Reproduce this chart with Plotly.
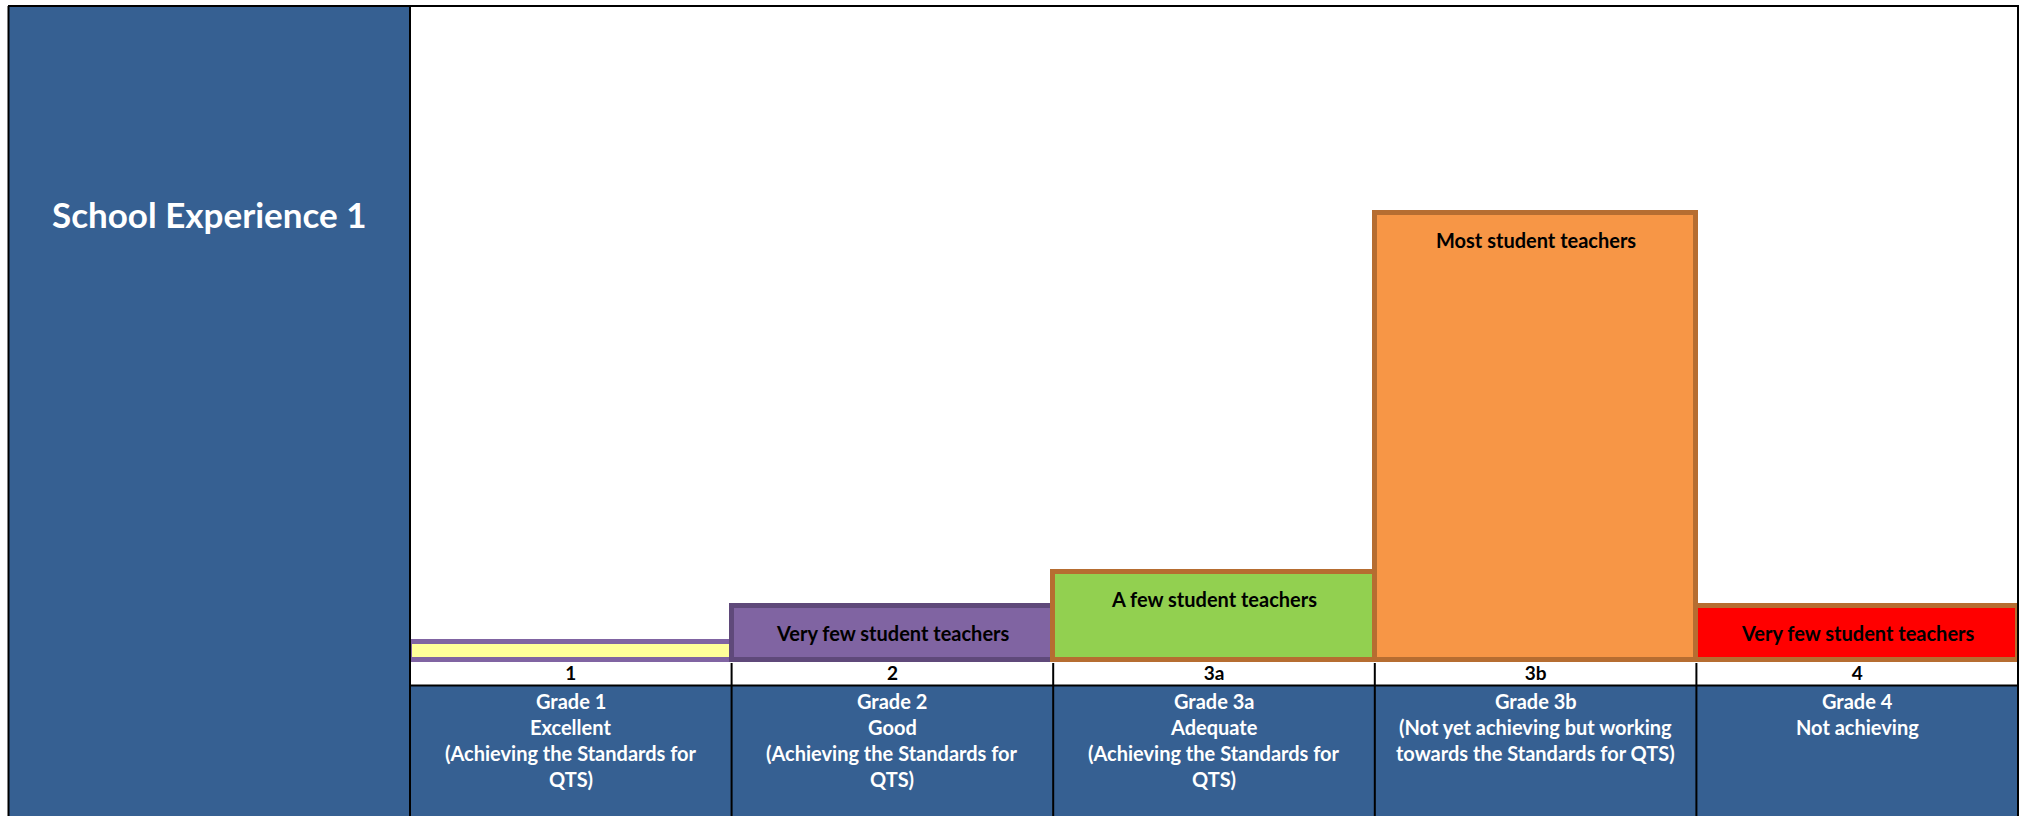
import plotly.graph_objects as go

# ---------------- data ----------------
grades = ["1", "2", "3a", "3b", "4"]
values = [2.8, 8.3, 13.5, 68.3, 8.2]
bar_labels = ["", "Very few student teachers", "A few student teachers",
              "Most student teachers", "Very few student teachers"]
fill_colors = ["#FFFF99", "#8064A2", "#92D050", "#F79646", "#FF0000"]
line_colors = ["#8064A2", "#5F497A", "#B66D31", "#B66D31", "#B66D31"]
grade_descriptions = [
    ["Grade 1", "Excellent", "(Achieving the Standards for", "QTS)"],
    ["Grade 2", "Good", "(Achieving the Standards for", "QTS)"],
    ["Grade 3a", "Adequate", "(Achieving the Standards for", "QTS)"],
    ["Grade 3b", "(Not yet achieving but working", "towards the Standards for QTS)"],
    ["Grade 4", "Not achieving"],
]
panel_title = "School Experience 1"

# ---------------- layout helpers ----------------
W, H = 2022, 816
BLUE = "#366092"
FONT = "Lato"


def px(x):
    return x / W


def py(y):
    return 1 - y / H


fig = go.Figure()
fig.add_trace(go.Bar(
    x=grades, y=values, width=1,
    marker=dict(color=fill_colors, line=dict(color=line_colors, width=5)),
    hoverinfo="skip", showlegend=False,
))

shapes = []
# left title panel
shapes.append(dict(type="rect", xref="paper", yref="paper", x0=px(9), x1=px(410),
                   y0=0, y1=py(6), fillcolor=BLUE, line=dict(width=0), layer="below"))
# bottom description panel
shapes.append(dict(type="rect", xref="paper", yref="paper", x0=px(410), x1=px(2018),
                   y0=0, y1=py(686), fillcolor=BLUE, line=dict(width=0), layer="below"))
blk = dict(color="black", width=2)
# outer borders
shapes.append(dict(type="line", xref="paper", yref="paper", x0=px(8), x1=px(2019),
                   y0=py(6), y1=py(6), line=blk))
shapes.append(dict(type="line", xref="paper", yref="paper", x0=px(8.5), x1=px(8.5),
                   y0=0, y1=py(6), line=blk))
shapes.append(dict(type="line", xref="paper", yref="paper", x0=px(2018), x1=px(2018),
                   y0=0, y1=py(6), line=blk))
shapes.append(dict(type="line", xref="paper", yref="paper", x0=px(410), x1=px(410),
                   y0=0, y1=py(6), line=blk))
shapes.append(dict(type="line", xref="paper", yref="paper", x0=px(410), x1=px(2018),
                   y0=py(685.5), y1=py(685.5), line=blk))
# category separators below the bars
for i in range(len(grades) - 1):
    shapes.append(dict(type="line", xref="x", yref="paper", x0=i + 0.5, x1=i + 0.5,
                       y0=0, y1=py(663), line=blk))

annotations = []
# bar labels (x given as category index, since labels look numeric)
for i, (v, t) in enumerate(zip(values, bar_labels)):
    if t:
        annotations.append(dict(x=i, y=v, xref="x", yref="y", text="<b>" + t + "</b>",
                                showarrow=False, yanchor="middle", yshift=-27,
                                font=dict(family=FONT, size=20, color="black")))
# bottom descriptions
for i, lines in enumerate(grade_descriptions):
    for j, line in enumerate(lines):
        annotations.append(dict(x=i, y=py(701 + 26 * j), xref="x", yref="paper",
                                text="<b>" + line + "</b>", showarrow=False,
                                yanchor="middle",
                                font=dict(family=FONT, size=20, color="white")))
# panel title
annotations.append(dict(x=px(209), y=py(214), xref="paper", yref="paper",
                        text="<b>" + panel_title + "</b>", showarrow=False,
                        xanchor="center", yanchor="middle",
                        font=dict(family=FONT, size=35, color="white")))

fig.update_layout(
    width=W, height=H,
    margin=dict(l=0, r=0, t=0, b=0),
    paper_bgcolor="white", plot_bgcolor="white",
    bargap=0,
    shapes=shapes, annotations=annotations,
    xaxis=dict(domain=[px(410), px(2018)], type="category", range=[-0.5, 4.5],
               showgrid=False, zeroline=False, showline=False, ticks="",
               ticklabelstandoff=-3,
               tickfont=dict(family=FONT, size=19, color="black", weight="bold")),
    yaxis=dict(domain=[py(663), py(6)], range=[-0.45, 100], visible=False,
               showgrid=False, zeroline=False),
)

fig.write_html("out.html")
